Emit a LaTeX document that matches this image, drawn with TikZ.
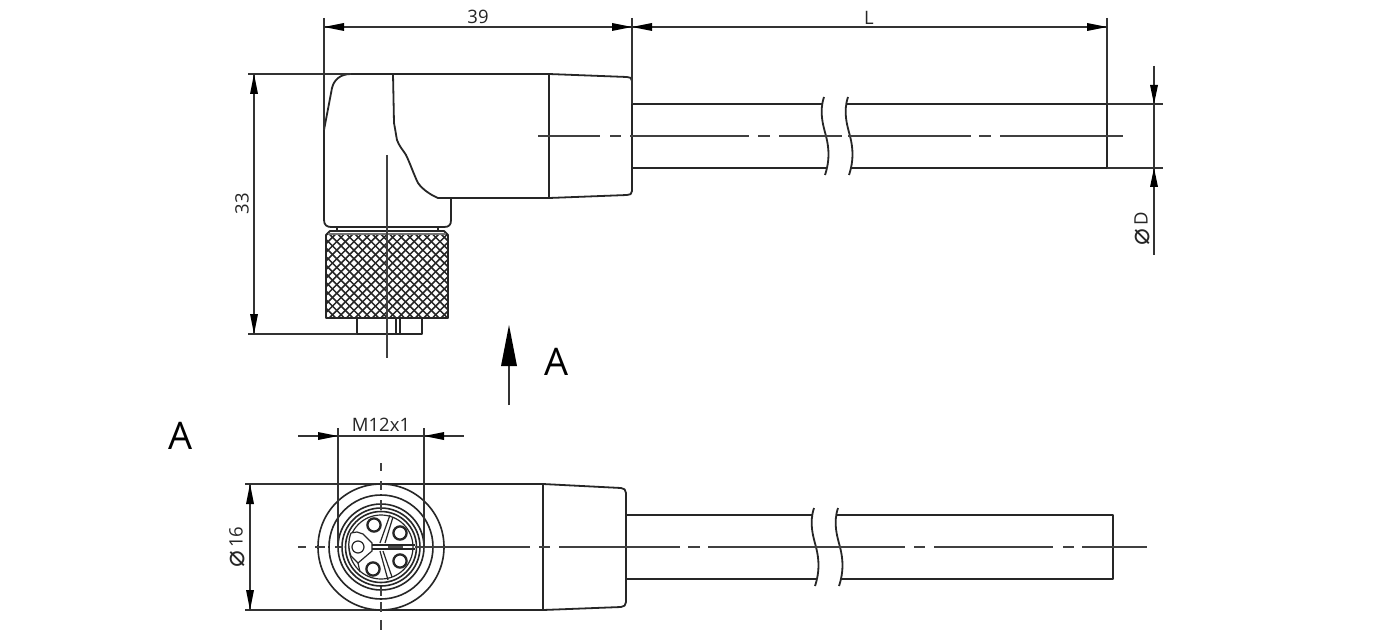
\documentclass[tikz,border=0pt]{standalone}
\usepackage{fontspec}
\setmainfont{Open Sans}
\newfontfamily\symfont{DejaVu Sans}
\newcommand{\diam}{{\fontsize{28}{28}\symfont\raisebox{-1.5pt}{⌀}}}
\begin{document}
\begin{tikzpicture}[x=1pt,y=-1pt,
  outline/.style={line width=1.8pt,line join=round,color=black!85},
  thin/.style={line width=1.2pt,color=black!85},
  dimline/.style={line width=1.2pt,color=black!80},
  center/.style={line width=1.2pt,color=black!75},
  dimarrow/.style={fill=black,draw=none},
  lab/.style={font=\fontsize{18.5}{18.5}\selectfont,text=black!85,inner sep=0pt},
  bigA/.style={font=\fontsize{38}{38}\selectfont,text=black,inner sep=0pt}]
\useasboundingbox (0,0) rectangle (1380,631);
\fill[white] (0,0) rectangle (1380,631);
% top view body
\draw[outline] (351,74) .. controls (340,74) and (334,80) .. (332,88) -- (324,130) -- (324,220) .. controls (324,225) and (327,227) .. (331,227) -- (444,227) .. controls (449,227) and (451,225) .. (451,220) -- (451,198);
\draw[outline] (393,74) -- (394,123) .. controls (395,128) and (396,135) .. (397,140) .. controls (399,146) and (403,150) .. (406,155) .. controls (410,163) and (414,175) .. (418,183) .. controls (423,190) and (431,195) .. (438,198) -- (549,198);
\draw[outline] (351,74) -- (549,74) -- (627,77) .. controls (630,77) and (632,78) .. (632,81) -- (632,191) .. controls (632,194) and (630,195) .. (627,195) -- (549,198);
\draw[outline] (549,74) -- (549,198);
% nut
\draw[thin] (337,227) -- (337,232) (438,227) -- (438,232);
\begin{scope}
\clip (326,234) rectangle (448,318);
\foreach \k in {-20,...,40} {
  \draw[line width=1.5pt,color=black!85] (326+\k*8.6-100,318) -- ++(100,-100);
  \draw[line width=1.5pt,color=black!85] (326+\k*8.6-100,234) -- ++(100,100);
}
\end{scope}
\draw[outline,line width=1.8pt] (326,235) -- (330,231) -- (444,231) -- (448,235) -- (448,318) -- (326,318) -- cycle;
\draw[color=black!55,line width=2pt] (328,233.5) -- (446,233.5);
\draw[outline] (357,318) -- (357,334) -- (422,334) -- (422,318) (396,318) -- (396,334) (400,318) -- (400,334);
\draw[center] (387,155) -- (387,358);
% top cable
\draw[outline] (632,104) -- (823,104) (632,168) -- (827,168) (847,104) -- (1107,104) -- (1107,168) -- (851,168);
\draw[outline] (824,97) .. controls (819,112) and (823,125) .. (826,136) .. controls (829,148) and (830,160) .. (825,175);
\draw[outline] (848,97) .. controls (843,112) and (847,125) .. (850,136) .. controls (853,148) and (854,160) .. (849,175);
\draw[center] (538,136) -- (600,136) (610,136) -- (621,136) (630,136) -- (749,136) (758,136) -- (770,136) (779,136) -- (842,136) (848,136) -- (971,136) (979,136) -- (991,136) (1000,136) -- (1123,136);
% top dims
\draw[dimline] (324,18) -- (324,130) (632,18) -- (632,104) (1107,18) -- (1107,104);
\draw[dimline] (324,27) -- (1107,27);
\draw[dimline] (248,74) -- (351,74) (248,334) -- (357,334) (254,74) -- (254,334);
\draw[dimline] (1107,104) -- (1163,104) (1107,168) -- (1163,168) (1154,66) -- (1154,255);
\fill[dimarrow] (324,27) -- (344,23) -- (344,31) -- cycle (632,27) -- (612,23) -- (612,31) -- cycle (632,27) -- (652,23) -- (652,31) -- cycle (1107,27) -- (1087,23) -- (1087,31) -- cycle;
\fill[dimarrow] (254,74) -- (250,94) -- (258,94) -- cycle (254,334) -- (250,314) -- (258,314) -- cycle;
\fill[dimarrow] (1154,104) -- (1150,85) -- (1158,85) -- cycle (1154,168) -- (1150,187) -- (1158,187) -- cycle;
\node[lab] (t39) at (478,16.5) {39};
\node[lab] (tL) at (869,17.5) {L};
\node[lab,rotate=90] (t33) at (242,204) {33};
\node[lab,rotate=90] (tD) at (1142,228.5) {\diam\,D};
% view arrow
\draw[line width=1.3pt,color=black!80] (509,405) -- (509,360);
\fill[black] (509,325) -- (501,366) -- (517,366) -- cycle;
\node[bigA] (a1) at (557,362) {A};
\node[bigA] (a2) at (181,436) {A};
% bottom body
\draw[outline] (381,484) -- (543,484) -- (621,488) .. controls (624,488) and (626,490) .. (626,493) -- (626,602) .. controls (626,605) and (624,607) .. (621,607) -- (543,610) -- (381,610);
\draw[outline] (543,484) -- (543,610);
\draw[dimline] (245,484) -- (381,484) (245,610) -- (381,610) (250,484) -- (250,610);
\fill[white] (381,547) circle (63);
\draw[outline,line width=1.6pt] (381,547) circle (63) (381,547) circle (52) (381,547) circle (43) (381,547) circle (39) (381,547) circle (35.5);
\draw[thin] (381,547) circle (32);
\foreach \p in {(374,525),(400,533),(400,561),(373,569)} \draw[line width=2.3pt,color=black!85] \p circle (6.6);
\draw[thin,fill=white] (351,533) -- (357,532) -- (363,534) -- (372,543) -- (372,551) -- (358,563) -- (351,556) .. controls (348,548) and (348,541) .. (351,533);
\draw[thin] (358,563) -- (360,572);
\draw[thin] (358,547) circle (6);
\draw[thin] (380,543) -- (390,515) (385,543) -- (393,517) (380,551) -- (388,580) (383,551) -- (392,577);
\draw[thin] (372,545) -- (415,545) (372,549) -- (415,549);
\draw[line width=2.5pt,color=black!70] (388,547) -- (403,547);
% bottom cable
\draw[outline] (626,515) -- (812,515) (626,579) -- (816,579) (836,515) -- (1113,515) -- (1113,579) -- (840,579);
\draw[outline] (814,508) .. controls (809,523) and (813,536) .. (816,547) .. controls (819,559) and (820,571) .. (815,586);
\draw[outline] (838,508) .. controls (833,523) and (837,536) .. (840,547) .. controls (843,559) and (844,571) .. (839,586);
\draw[center] (298,547) -- (306,547) (315,547) -- (325,547) (335,547) -- (343,547) (415,547) -- (530,547) (539,547) -- (550,547) (559,547) -- (680,547) (688,547) -- (700,547) (708,547) -- (905,547) (914,547) -- (925,547) (934,547) -- (1053,547) (1063,547) -- (1074,547) (1082,547) -- (1147,547);
\draw[center] (381,463) -- (381,471) (381,481) -- (381,490) (381,500) -- (381,510) (381,587) -- (381,596) (381,602) -- (381,612) (381,620) -- (381,630);
% bottom dims
\draw[dimline] (338,428) -- (338,547) (424,428) -- (424,547) (298,436) -- (464,436);
\fill[dimarrow] (338,436) -- (318,432) -- (318,440) -- cycle (424,436) -- (444,432) -- (444,440) -- cycle;
\fill[dimarrow] (250,484) -- (246,504) -- (254,504) -- cycle (250,610) -- (246,590) -- (254,590) -- cycle;
\node[lab] (tM) at (381,425) {M12x1};
\node[lab,rotate=90] (t16) at (237,547) {\diam\,16};
\end{tikzpicture}
\end{document}
